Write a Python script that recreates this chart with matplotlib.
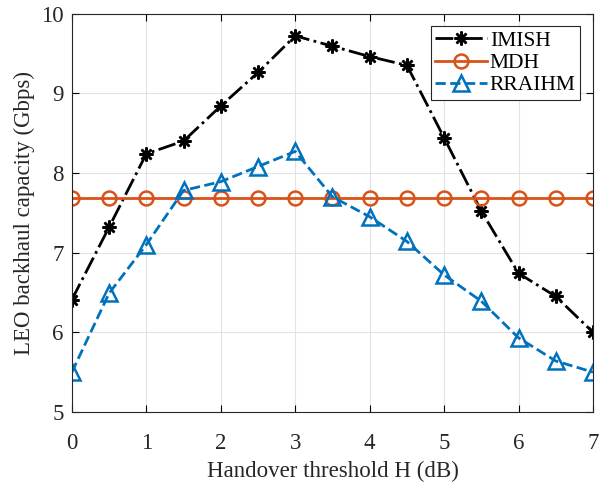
import matplotlib
matplotlib.use('Agg')
import matplotlib.pyplot as plt

plt.rcParams['font.family'] = ['Liberation Serif', 'DejaVu Serif']
plt.rcParams['mathtext.fontset'] = 'stix'

# handover threshold values
threshold = [0, 0.5, 1, 1.5, 2, 2.5, 3, 3.5, 4, 4.5, 5, 5.5, 6, 6.5, 7]

imish = [6.41, 7.32, 8.24, 8.40, 8.84, 9.26, 9.72, 9.59, 9.46, 9.35, 8.44, 7.52, 6.74, 6.45, 6.00]
mdh = [7.68] * len(threshold)
rraihm = [5.50, 6.49, 7.10, 7.78, 7.89, 8.08, 8.27, 7.70, 7.45, 7.14, 6.72, 6.39, 5.93, 5.64, 5.50]

fig, ax = plt.subplots(figsize=(5.99, 4.83), dpi=100)
fig.subplots_adjust(left=0.12, right=0.99, top=0.972, bottom=0.147)

ax.plot(threshold, imish, color='black', linestyle='-.', linewidth=2,
        marker=(8, 2, 0), markersize=10, markeredgewidth=1.8, label='IMISH')
ax.plot(threshold, mdh, color='#D95319', linestyle='-', linewidth=2,
        marker='o', markersize=10, markerfacecolor='none', markeredgewidth=1.8, label='MDH')
ax.plot(threshold, rraihm, color='#0072BD', linestyle='--', linewidth=2,
        marker='^', markersize=11, markerfacecolor='none', markeredgewidth=1.8, label='RRAIHM')

ax.set_xlim(0, 7)
ax.set_ylim(5, 10)
ax.set_xticks(range(0, 8))
ax.set_yticks(range(5, 11))
ax.grid(True, color='#e3e3e3', linewidth=0.8)
ax.set_axisbelow(True)
ax.tick_params(direction='in', top=True, right=True, labelsize=16.5, length=5, width=0.8,
               labelcolor='#262626')
ax.tick_params(axis='x', pad=15)
ax.tick_params(axis='y', pad=6)
for s in ax.spines.values():
    s.set_color('#262626')
    s.set_linewidth(0.8)

ax.set_xlabel('Handover threshold H (dB)', fontsize=16.5, color='#262626', labelpad=5)
ax.set_ylabel('LEO backhaul capacity (Gbps)', fontsize=16.5, color='#262626', labelpad=4)

leg = ax.legend(loc='upper right', fontsize=15.5, fancybox=False, framealpha=1,
                edgecolor='#262626', borderpad=0.2, labelspacing=0.1,
                handlelength=2.4, handletextpad=0.15, borderaxespad=0.6)
leg.get_frame().set_linewidth(0.8)

fig.savefig('out.png', dpi=100)
